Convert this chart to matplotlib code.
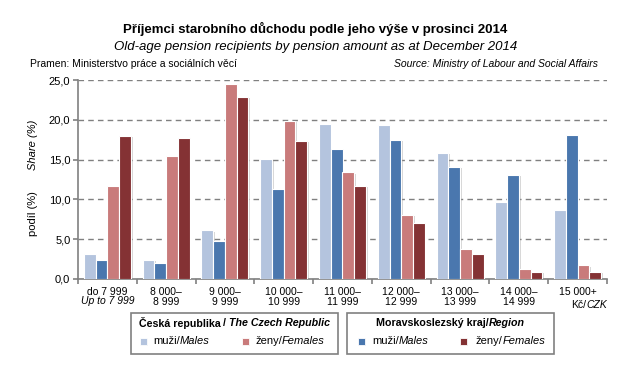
import matplotlib
matplotlib.use("Agg")
import matplotlib.pyplot as plt
import matplotlib.patheffects as pe
from matplotlib.patches import Rectangle
import numpy as np

plt.rcParams['font.family'] = ['Liberation Sans', 'DejaVu Sans']

# data (share in %, December 2014)
groups_first = ["do 7 999", "8 000–", "9 000–", "10 000–", "11 000–",
                "12 000–", "13 000–", "14 000–", "15 000+"]
groups_second = ["", "8 999", "9 999", "10 999", "11 999",
                 "12 999", "13 999", "14 999", ""]
cz_males = [3.1, 2.4, 6.1, 15.1, 19.5, 19.3, 15.9, 9.7, 8.7]
ms_males = [2.4, 2.0, 4.8, 11.3, 16.4, 17.5, 14.1, 13.1, 18.1]
cz_females = [11.7, 15.5, 24.5, 19.9, 13.4, 8.1, 3.8, 1.3, 1.7]
ms_females = [18.0, 17.7, 22.9, 17.4, 11.7, 7.1, 3.1, 0.9, 0.9]

c_czm, c_msm, c_czf, c_msf = '#b4c4de', '#4a77ae', '#c97b7b', '#843234'
grey = '#808080'

W, H = 631, 376
fig = plt.figure(figsize=(W / 100, H / 100), dpi=100)
ax = fig.add_axes([78 / W, 1 - 279 / H, (607 - 78) / W, (279 - 80) / H])

shadow = [pe.SimplePatchShadow(offset=(1.2, -0.8), shadow_rgbFace='#8c8c8c', alpha=0.35), pe.Normal()]
x = np.arange(len(groups_first))
bw = 0.2
series = [(cz_males, c_czm), (ms_males, c_msm), (cz_females, c_czf), (ms_females, c_msf)]
for i, (vals, col) in enumerate(series):
    bars = ax.bar(x + (i - 1.5) * bw, vals, bw, color=col, edgecolor='white',
                  linewidth=0.8, zorder=3)
    for b in bars:
        b.set_path_effects(shadow)

ax.set_xlim(-0.5, 8.5)
ax.set_ylim(0, 25.02)
ax.set_yticks(np.arange(0, 26, 5))
ax.set_yticklabels([f"{v:.1f}".replace('.', ',') for v in np.arange(0, 26, 5)])
ax.yaxis.grid(True, color=grey, linestyle=(0, (4, 3)), linewidth=1)
ax.set_axisbelow(True)
for s in ['top', 'right']:
    ax.spines[s].set_visible(False)
for s in ['left', 'bottom']:
    ax.spines[s].set_color(grey)
    ax.spines[s].set_linewidth(1.2)

ax.set_xticks(x)
ax.set_xticklabels([f + ("\n" + s if s else "") for f, s in zip(groups_first, groups_second)],
                   fontsize=7.5, linespacing=0.95)
ax.set_xticks(np.arange(-0.5, 9, 1), minor=True)
ax.tick_params(axis='x', which='major', length=0, pad=6)
ax.tick_params(axis='x', which='minor', length=3.5, color=grey, width=1.2, direction='out')
ax.tick_params(axis='y', length=3.5, color=grey, width=1.2, labelsize=8, pad=2)

renderer = fig.canvas.get_renderer()


def run(xp, yp, parts, size, ha='left'):
    # place text pieces with different styles one after another
    items = []
    total = 0
    for s, style, weight in parts:
        t = fig.text(0, 0, s, fontsize=size, style=style, weight=weight, va='center')
        w = t.get_window_extent(renderer).width
        items.append((t, w))
        total += w
    if ha == 'center':
        xp -= total / 2
    elif ha == 'right':
        xp -= total
    for t, w in items:
        t.set_position((xp / W, 1 - yp / H))
        xp += w


fig.text(108 / W, 1 - 301 / H, "Up to 7 999", fontsize=7.5, style='italic', ha='center', va='center')
run(607, 305, [("Kč/", 'normal', 'normal'), ("CZK", 'italic', 'normal')], 7.5, ha='right')

# titles
fig.text(0.5, 1 - 29 / H, "Příjemci starobního důchodu podle jeho výše v prosinci 2014",
         fontsize=9.5, weight='bold', ha='center', va='center')
fig.text(0.5, 1 - 47 / H, "Old-age pension recipients by pension amount as at December 2014",
         fontsize=9.5, style='italic', ha='center', va='center')
fig.text(30 / W, 1 - 64 / H, "Pramen: Ministerstvo práce a sociálních věcí", fontsize=7.5, va='center')
fig.text(598 / W, 1 - 64 / H, "Source: Ministry of Labour and Social Affairs", fontsize=7.5,
         style='italic', ha='right', va='center')

# y axis label
fig.text(33 / W, 1 - 214 / H, "podíl (%)", fontsize=8, rotation=90, ha='center', va='center')
fig.text(33 / W, 1 - 145 / H, "Share (%)", fontsize=8, style='italic', rotation=90, ha='center', va='center')

# legend boxes
legend_boxes = [
    ((131, 338),
     [("Česká republika", 'normal', 'bold'), (" ", 'normal', 'bold'), ("/", 'normal', 'bold'),
      (" ", 'normal', 'bold'), ("The Czech Republic", 'italic', 'bold')],
     (c_czm, c_czf), (140, 242), (153, 255)),
    ((347, 554),
     [("Moravskoslezský kraj/", 'normal', 'bold'), ("Region", 'italic', 'bold')],
     (c_msm, c_msf), (358, 460), (372, 476)),
]
for (x0, x1), title, cols, sw_x, tx in legend_boxes:
    fig.patches.append(Rectangle((x0 / W, 1 - 354 / H), (x1 - x0) / W, 41 / H,
                                 transform=fig.transFigure, facecolor='white',
                                 edgecolor=grey, linewidth=1.2))
    run((x0 + x1) / 2, 323, title, 7.7, ha='center')
    for k, (col, sx, t) in enumerate(zip(cols, sw_x, tx)):
        r = Rectangle((sx / W, 1 - 345 / H), 7 / W, 7 / H, transform=fig.transFigure,
                      facecolor=col, edgecolor='white', linewidth=0.6)
        r.set_path_effects([pe.SimplePatchShadow(offset=(0.8, -0.8), shadow_rgbFace='#8c8c8c',
                                                 alpha=0.3), pe.Normal()])
        fig.patches.append(r)
        lab = [("muži/", 'normal', 'normal'), ("Males", 'italic', 'normal')] if k == 0 \
            else [("ženy/", 'normal', 'normal'), ("Females", 'italic', 'normal')]
        run(t, 341, lab, 8)

fig.savefig("out.png", dpi=100)
